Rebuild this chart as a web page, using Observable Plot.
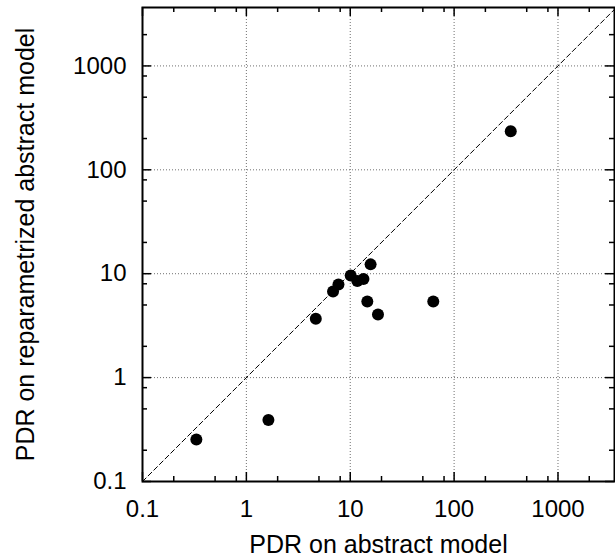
<!DOCTYPE html>
<html>
<head>
<meta charset="utf-8">
<script src="https://cdn.jsdelivr.net/npm/d3@7"></script>
<script src="https://cdn.jsdelivr.net/npm/@observablehq/plot@0.6"></script>
<style>
  html, body { margin: 0; padding: 0; background: white; }
  #chart svg { display: block; }
</style>
</head>
<body>
<div id="chart"></div>
<script>
// Data
const pdrAbstract = [0.33, 1.63, 4.66, 6.83, 7.7, 10.1, 11.7, 13.4, 15.7, 14.6, 18.5, 63, 351];
const pdrReparam  = [0.254, 0.39, 3.68, 6.74, 7.87, 9.6, 8.5, 8.9, 12.3, 5.4, 4.05, 5.4, 235];

const majorTicks = [0.1, 1, 10, 100, 1000];
const majorLabels = ["0.1", "1", "10", "100", "1000"];
const gridTicks = [1, 10, 100, 1000];
const minorTicks = [0.2, 0.5, 0.8, 2, 5, 8, 20, 50, 80, 200, 500, 800, 2000];
const diagonal = [0.1, 3650];

const xLabel = "PDR on abstract model";
const yLabel = "PDR on reparametrized abstract model";

const points = pdrAbstract.map((x, i) => ({x, y: pdrReparam[i]}));

const W = 615, H = 557;
const mt = 7, mb = 76, ml = 142, mr = 1;
const innerW = W - ml - mr, innerH = H - mt - mb;
const majLen = 9, minLen = 5;
const font = "'Liberation Sans', Arial, Helvetica, sans-serif";

const chart = Plot.plot({
  width: W,
  height: H,
  marginTop: mt,
  marginBottom: mb,
  marginLeft: ml,
  marginRight: mr,
  style: {fontFamily: font, background: "white", color: "black"},
  x: {type: "log", domain: [0.1, 3500], axis: null},
  y: {type: "log", domain: [0.1, 3650], axis: null},
  marks: [
    // grid
    Plot.ruleX(gridTicks, {x: d => d, stroke: "#707070", strokeWidth: 1, strokeDasharray: "1,2"}),
    Plot.ruleY(gridTicks, {y: d => d, stroke: "#707070", strokeWidth: 1, strokeDasharray: "1,2"}),
    // diagonal y = x
    Plot.line(diagonal, {x: d => d, y: d => d, stroke: "black", strokeWidth: 1, strokeDasharray: "5,3", clip: true}),
    // points
    Plot.dot(points, {x: "x", y: "y", r: 6, fill: "black", stroke: "none"}),
    // ticks, inward, mirrored
    Plot.tickX(majorTicks, {x: d => d, insetTop: innerH - majLen, stroke: "black", strokeWidth: 1.5}),
    Plot.tickX(majorTicks, {x: d => d, insetBottom: innerH - majLen, stroke: "black", strokeWidth: 1.5}),
    Plot.tickX(minorTicks, {x: d => d, insetTop: innerH - minLen, stroke: "black", strokeWidth: 1.5}),
    Plot.tickX(minorTicks, {x: d => d, insetBottom: innerH - minLen, stroke: "black", strokeWidth: 1.5}),
    Plot.tickY(majorTicks, {y: d => d, insetRight: innerW - majLen, stroke: "black", strokeWidth: 1.5}),
    Plot.tickY(majorTicks, {y: d => d, insetLeft: innerW - majLen, stroke: "black", strokeWidth: 1.5}),
    Plot.tickY(minorTicks, {y: d => d, insetRight: innerW - minLen, stroke: "black", strokeWidth: 1.5}),
    Plot.tickY(minorTicks, {y: d => d, insetLeft: innerW - minLen, stroke: "black", strokeWidth: 1.5}),
    // frame
    Plot.frame({stroke: "black", strokeWidth: 2}),
    // tick labels
    Plot.text(majorTicks, {x: d => d, text: (d, i) => majorLabels[i], frameAnchor: "bottom", lineAnchor: "bottom", dy: 35, fontSize: 24, fill: "black"}),
    Plot.text(majorTicks, {y: d => d, text: (d, i) => majorLabels[i], frameAnchor: "left", textAnchor: "end", lineAnchor: "middle", dx: -16, fontSize: 24, fill: "black"}),
    // axis titles
    Plot.text([xLabel], {text: d => d, frameAnchor: "bottom", textAnchor: "middle", lineAnchor: "bottom", dy: 71, fontSize: 25, fill: "black"}),
    Plot.text([yLabel], {text: d => d, frameAnchor: "left", textAnchor: "middle", lineAnchor: "bottom", rotate: -90, dx: -109, fontSize: 25, fill: "black"})
  ]
});

document.getElementById("chart").appendChild(chart);
</script>
</body>
</html>
